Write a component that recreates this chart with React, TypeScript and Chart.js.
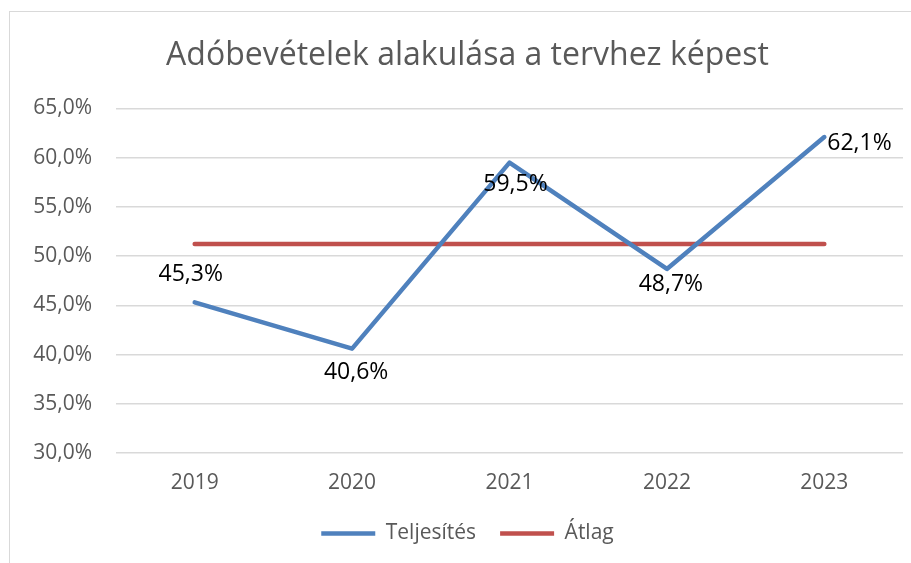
import React, { useEffect, useRef } from 'react';
import { Chart, registerables } from 'chart.js';

Chart.register(...registerables);

const title = 'Adóbevételek alakulása a tervhez képest';
const categories = ['2019', '2020', '2021', '2022', '2023'];
const teljesites = [45.3, 40.6, 59.5, 48.7, 62.1];
const atlagValue = 51.24;
const atlag = [atlagValue, atlagValue, atlagValue, atlagValue, atlagValue];
const seriesNames = ['Teljesítés', 'Átlag'];
const yMin = 30;
const yMax = 65;
const yStep = 5;
// label placement relative to each point: [align, dx, dy]
const labelPlacement: [string, number, number][] = [
  ['center', -4, -28],
  ['center', 4, 24],
  ['center', 6, 22],
  ['center', 4, 16],
  ['left', 3, 6],
];

const FONT = '"Open Sans", "Noto Sans", sans-serif';
const fmt = (v: number) => v.toFixed(1).replace('.', ',') + '%';

const valueLabels = {
  id: 'valueLabels',
  afterDatasetsDraw(chart: any) {
    const meta = chart.getDatasetMeta(0);
    const ctx = chart.ctx;
    ctx.save();
    ctx.font = `23px ${FONT}`;
    ctx.fillStyle = '#000000';
    ctx.textBaseline = 'middle';
    meta.data.forEach((pt: any, i: number) => {
      const [align, dx, dy] = labelPlacement[i];
      ctx.textAlign = align;
      ctx.fillText(fmt(teljesites[i]), pt.x + dx, pt.y + dy);
    });
    ctx.restore();
  },
};

export default function App() {
  const ref = useRef<HTMLCanvasElement | null>(null);
  useEffect(() => {
    if (!ref.current) return;
    const chart = new Chart(ref.current, {
      type: 'line',
      data: {
        labels: categories,
        datasets: [
          {
            label: seriesNames[0],
            data: teljesites,
            borderColor: '#4F81BD',
            backgroundColor: '#4F81BD',
            borderWidth: 4.5,
            borderCapStyle: 'round',
            borderJoinStyle: 'round',
            pointRadius: 0,
            tension: 0,
          },
          {
            label: seriesNames[1],
            data: atlag,
            borderColor: '#C0504D',
            backgroundColor: '#C0504D',
            borderWidth: 4.5,
            borderCapStyle: 'round',
            borderJoinStyle: 'round',
            pointRadius: 0,
            tension: 0,
          },
        ],
      },
      options: {
        animation: false,
        responsive: false,
        maintainAspectRatio: false,
        layout: { padding: { left: 32, right: 8, top: 0, bottom: 9 } },
        plugins: {
          title: {
            display: true,
            text: title,
            color: '#595959',
            font: { family: FONT, size: 32, weight: 'normal' },
            padding: { top: 36.8, bottom: 33.3 },
          },
          legend: {
            display: true,
            position: 'bottom',
            labels: {
              color: '#595959',
              font: { family: FONT, size: 21 },
              usePointStyle: true,
              pointStyle: 'line',
              pointStyleWidth: 54,
              boxHeight: 4,
              padding: 24,
            },
          },
          tooltip: { enabled: false },
        },
        scales: {
          x: {
            offset: true,
            grid: { display: false, drawTicks: false },
            border: { display: false },
            ticks: { color: '#595959', font: { family: FONT, size: 21 }, padding: 17.4 },
            afterFit: (s: any) => { s.height = 46; },
          },
          y: {
            min: yMin,
            max: yMax,
            grid: { color: '#D9D9D9', lineWidth: 1.5, drawTicks: false },
            border: { display: false },
            ticks: {
              stepSize: yStep,
              color: '#595959',
              font: { family: FONT, size: 21 },
              padding: 24,
              callback: (v: any) => fmt(Number(v)),
            },
            afterFit: (s: any) => { s.width = 84; },
          },
        },
      },
      plugins: [valueLabels],
    } as any);
    return () => chart.destroy();
  }, []);

  return (
    <div style={{ position: 'absolute', left: 0, top: 0, width: 911, height: 563, overflow: 'hidden', background: '#fff' }}>
      <div style={{ position: 'absolute', left: 9, top: 11, width: 1000, height: 1000, border: '1px solid #D9D9D9', boxSizing: 'border-box' }} />
      <canvas ref={ref} width={911} height={563} style={{ position: 'absolute', left: 0, top: 0, width: 911, height: 563 }} />
    </div>
  );
}
